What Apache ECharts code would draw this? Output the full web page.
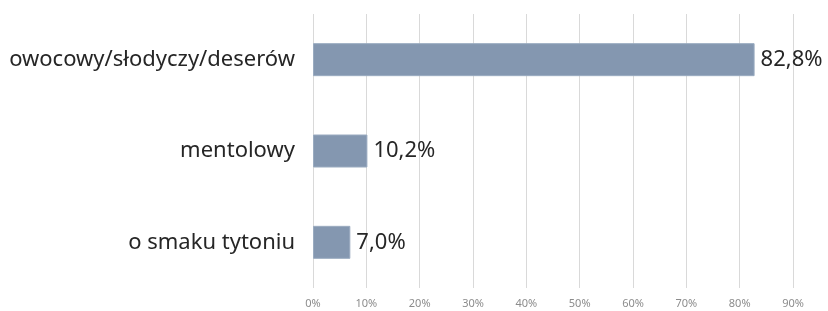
<!DOCTYPE html>
<html>
<head>
<meta charset="utf-8">
<script src="https://cdn.jsdelivr.net/npm/echarts@6/dist/echarts.min.js"></script>
<style>
    html, body { margin: 0; padding: 0; background: #fff; }
    #chart { width: 828px; height: 311px; }
</style>
</head>
<body>
<div id="chart"></div>
<script>
// dane z wykresu (od góry do dołu)
const categories = ['owocowy/słodyczy/deserów', 'mentolowy', 'o smaku tytoniu'];
const values = [82.8, 10.2, 7.0];
const tickMax = 90;
const tickStep = 10;

const myChart = echarts.init(document.getElementById('chart'));
let option = {
    animation: false,
    backgroundColor: '#ffffff',
    grid: {
        left: 313,
        right: 35,
        top: 14,
        bottom: 23,
        containLabel: false
    },
    xAxis: {
        type: 'value',
        min: 0,
        max: tickMax,
        interval: tickStep,
        axisLine: { show: false },
        axisTick: { show: false },
        splitLine: {
            show: true,
            lineStyle: { color: '#d9d9d9', width: 1 }
        },
        axisLabel: {
            margin: 10,
            fontFamily: 'Noto Sans',
            fontSize: 11,
            color: '#8c8c8c',
            formatter: function (v) { return v + '%'; }
        }
    },
    yAxis: {
        type: 'category',
        inverse: true,
        data: categories,
        axisLine: { show: false },
        axisTick: { show: false },
        splitLine: { show: false },
        axisLabel: {
            margin: 18,
            fontFamily: 'Noto Sans',
            fontSize: 22,
            color: '#262626'
        }
    },
    series: [{
        type: 'bar',
        data: values,
        barWidth: 33,
        itemStyle: {
            color: '#8497b0',
            borderColor: '#9aabc0',
            borderWidth: 1
        },
        label: {
            show: true,
            position: 'right',
            distance: 6,
            fontFamily: 'Noto Sans',
            fontSize: 22,
            color: '#262626',
            formatter: function (p) {
                return p.value.toFixed(1).replace('.', ',') + '%';
            }
        }
    }]
};
myChart.setOption(option);
</script>
</body>
</html>
